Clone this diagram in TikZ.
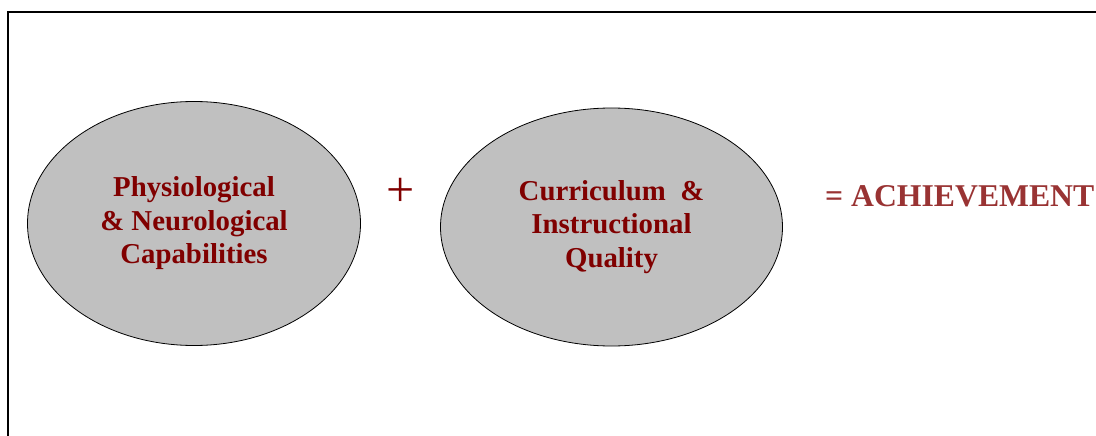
\documentclass[tikz,border=0pt]{standalone}
\usepackage{fontspec}
\setmainfont{Liberation Serif}
\usepackage{xcolor}
\definecolor{800000}{HTML}{800000}
\definecolor{993333}{HTML}{993333}
\definecolor{c0c0c0}{HTML}{C0C0C0}
\usetikzlibrary{shapes.geometric}

\tikzset{
    factor/.style={ellipse, draw, line width=0.8, fill=c0c0c0, align=center,
        text=800000, font=\fontsize{28.8}{33.5}\selectfont\bfseries},
}

\begin{document}
\begin{tikzpicture}[x=1pt, y=-1pt]
            \clip (0,0) rectangle (1096,436);
            \useasboundingbox (0,0) rectangle (1096,436);

            % frame
            \draw[line width=2.5] (8,12) rectangle (1120,460);

            \node (phys) at (194,223.5) [factor, minimum width=333, minimum height=244]
                {Physiological\\\& Neurological\\Capabilities};
            \node (curr) at (611.5,227) [factor, minimum width=342, minimum height=238]
                {Curriculum\ \ \&\\Instructional\\Quality};

            \node (plus) at (401,192) [text=800000, font=\fontsize{50}{50}\selectfont] {+};
            \node (achv) at (825,196) [anchor=west, inner sep=0, text=993333,
                font=\fontsize{31.7}{31.7}\selectfont\bfseries] {= ACHIEVEMENT};
        \end{tikzpicture}
\end{document}
